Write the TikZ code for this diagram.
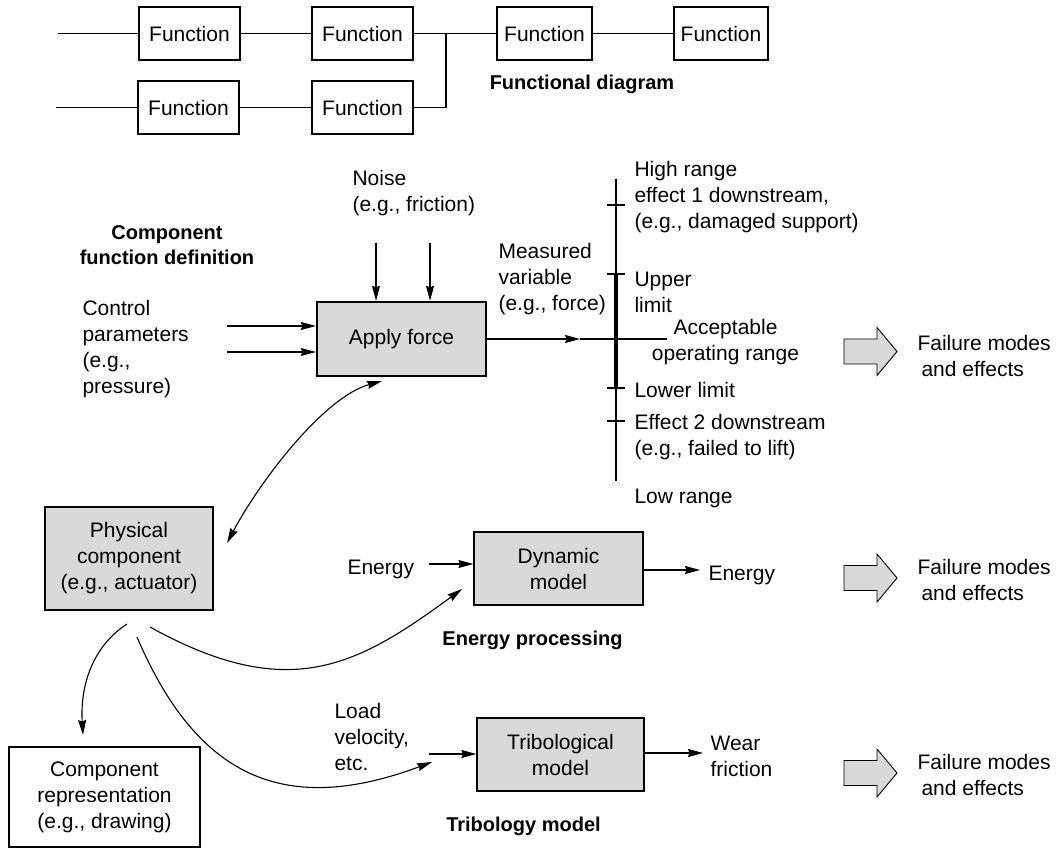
\documentclass[tikz,border=0pt]{standalone}
\usepackage{fontspec}
\setmainfont{Liberation Sans}
\usetikzlibrary{arrows.meta}
\definecolor{boxgray}{HTML}{D9D9D9}
\begin{document}
\begin{tikzpicture}[x=1pt,y=-1pt,
  font=\fontsize{21}{26}\selectfont,
  line width=1.1pt,
  tip/.tip={Stealth[length=15pt,width=8pt,inset=1.5pt]},
  arr/.style={-tip},
  biarr/.style={tip-tip},
  funcbox/.style={draw,line width=1.2pt,minimum width=101pt,minimum height=53pt,inner sep=0pt},
  graybox/.style={draw,fill=boxgray,line width=1.2pt,align=center,inner sep=0pt},
  txt/.style={align=left,anchor=west,inner sep=0pt},
  head/.style={font=\fontsize{20}{25}\selectfont\bfseries,align=center,inner sep=0pt},
  fat/.pic={\draw[fill=boxgray,line width=0.9pt]
    (0,-12.5) -- (33,-12.5) -- (33,-24) -- (53,0) -- (33,24) -- (33,12.5) -- (0,12.5) -- cycle;}
]
\useasboundingbox (0,0) rectangle (1058,850);

% ---------- functional diagram ----------
\node[funcbox] (f1) at (189.5,33.5) {Function};
\node[funcbox] (f2) at (362.5,33.5) {Function};
\node[funcbox,minimum width=95pt] (f3) at (544.5,33.5) {Function};
\node[funcbox,minimum width=94pt] (f4) at (721,33.5) {Function};
\node[funcbox] (f5) at (188.5,107.5) {Function};
\node[funcbox] (f6) at (362.5,107.5) {Function};
\coordinate (in1) at (58,33.5);
\coordinate (in2) at (56,107.5);
\coordinate (join) at (446,33.5);
\draw (in1) -- (f1.west);
\draw (f1.east) -- (f2.west);
\draw (f2.east) -- (f3.west);
\draw (f3.east) -- (f4.west);
\draw (in2) -- (f5.west);
\draw (f5.east) -- (f6.west);
\draw (f6.east) -| (join);
\node[head] (fdlabel) at (582,84) {Functional diagram};

% ---------- component function definition ----------
\node[head] (cfd) at (167,245) {Component\\function definition};
\node[graybox,line width=2.4pt,minimum width=169pt,minimum height=74pt] (af) at (401.5,339) {Apply force};

\node[txt] (noise) at (352,193.5) {Noise\\(e.g., friction)};
\coordinate (n1) at (376,243);
\coordinate (n2) at (430,243);
\draw[arr] (n1) -- (n1 |- af.north);
\draw[arr] (n2) -- (n2 |- af.north);

\node[txt] (ctrl) at (82,349) {Control\\parameters\\(e.g.,\\pressure)};
\coordinate (c1) at (227,326);
\coordinate (c2) at (227,352);
\draw[arr] (c1) -- (c1 -| af.west);
\draw[arr] (c2) -- (c2 -| af.west);

\node[txt] (meas) at (498,279.5) {Measured\\variable\\(e.g., force)};
\coordinate (mtip) at (580,339);
\coordinate (mend) at (667,339);
\draw[arr] (af.east) -- (mtip);
\draw (mtip) -- (mend);

% range scale
\coordinate (axtop) at (616,179);
\coordinate (axbot) at (616,481);
\draw (axtop) -- (axbot);
\draw[line width=4.5pt] (616,274) -- (616,388);
\foreach \ty in {205,274,388,421} \draw (607,\ty) -- (625,\ty);

\node[txt] (high) at (634,197) {High range\\effect 1 downstream,\\(e.g., damaged support)};
\node[txt] (upper) at (634,292) {Upper\\limit};
\node[align=center,inner sep=0pt] (accept) at (725.5,342) {Acceptable\\operating range};
\node[txt] (lower) at (634,390) {Lower limit};
\node[txt] (eff2) at (634,437) {Effect 2 downstream\\(e.g., failed to lift)};
\node[txt] (low) at (634,498) {Low range};

\pic at (844,351.5) {fat};
\node[txt] (fm1) at (917,355.5) {Failure modes\\\hspace*{4pt}and effects};

% ---------- physical component ----------
\node[graybox,minimum width=168pt,minimum height=103pt] (pc) at (129,558.5) {Physical\\component\\(e.g., actuator)};
\coordinate (pcA) at (227,543);
\coordinate (afA) at (382,381);
\draw[biarr] (pcA) .. controls (260,481) and (324,397) .. (afA);

\node[draw,fill=white,line width=1.2pt,align=center,inner sep=0pt,minimum width=191pt,minimum height=100pt] (rep) at (104.5,797) {Component\\representation\\(e.g., drawing)};
\coordinate (pcR) at (127,624);
\coordinate (repT) at (83,735);
\draw[arr] (pcR) .. controls (93,646) and (80,685) .. (repT);

% ---------- energy processing ----------
\node[graybox,minimum width=169pt,minimum height=73pt] (dm) at (558.5,568.5) {Dynamic\\model};
\node[txt] (ein) at (347,569) {Energy};
\coordinate (eIn) at (429,564);
\draw[arr] (eIn) -- (eIn -| dm.west);
\coordinate (eOut) at (700,570);
\draw[arr] (dm.east |- eOut) -- (eOut);
\node[txt] (eout) at (708,575) {Energy};
\node[head] (ep) at (532.5,640) {Energy processing};
\coordinate (pcD) at (150,627);
\coordinate (dmT) at (462,589);
\draw[arr] (pcD) .. controls (289,704) and (357,666) .. (dmT);

\pic at (844,578) {fat};
\node[txt] (fm2) at (917,580) {Failure modes\\\hspace*{4pt}and effects};

% ---------- tribology model ----------
\node[graybox,minimum width=167pt,minimum height=73pt] (tm) at (560.5,754.5) {Tribological\\model};
\node[txt] (load) at (334,737) {Load\\velocity,\\etc.};
\coordinate (tIn) at (429,754);
\draw[arr] (tIn) -- (tIn -| tm.west);
\coordinate (tOut) at (703,753);
\draw[arr] (tm.east |- tOut) -- (tOut);
\node[txt] (wear) at (710,756) {Wear\\friction};
\node[head] (tbl) at (523.5,826) {Tribology model};
\coordinate (pcT) at (137,637);
\coordinate (tmT) at (432,762);
\draw[arr] (pcT) .. controls (196,775) and (282,818) .. (tmT);

\pic at (844,773) {fat};
\node[txt] (fm3) at (917,775) {Failure modes\\\hspace*{4pt}and effects};
\end{tikzpicture}
\end{document}
